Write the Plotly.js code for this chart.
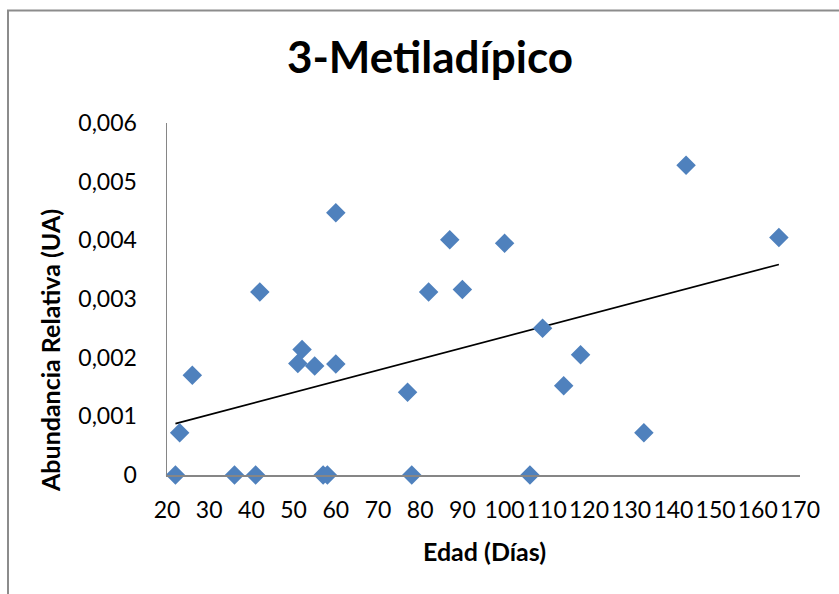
<!DOCTYPE html>
<html>
<head>
<meta charset="utf-8">
<script src="https://cdn.plot.ly/plotly-3.0.1.min.js"></script>
<style>
  html, body { margin: 0; padding: 0; background: #ffffff; overflow: hidden; }
  #chart { width: 839px; height: 594px; }
</style>
</head>
<body>
<div id="chart"></div>
<script>
// Edad (días) y abundancia relativa de ácido 3-metiladípico por muestra
const edad = [22, 23, 26, 36, 41, 42, 51, 52, 55, 57, 58, 60, 60, 77, 78, 82, 87, 90, 100, 106, 109, 114, 118, 133, 143, 165];
const abundancia = [0, 0.00072, 0.0017, 0, 0, 0.00312, 0.0019, 0.00214, 0.00186, 0, 0, 0.00447, 0.00189, 0.00141, 0, 0.00312, 0.00401, 0.00316, 0.00395, 0, 0.0025, 0.00152, 0.00205, 0.00072, 0.00528, 0.00405];

// Etiquetas de los ejes
const xTicks = [20, 30, 40, 50, 60, 70, 80, 90, 100, 110, 120, 130, 140, 150, 160, 170];
const yTicks = [0, 0.001, 0.002, 0.003, 0.004, 0.005, 0.006];
const yTickText = ['0', '0,001', '0,002', '0,003', '0,004', '0,005', '0,006'];

// Recta de tendencia lineal (mínimos cuadrados)
function ajusteLineal(xs, ys) {
  const n = xs.length;
  const mx = xs.reduce((a, b) => a + b, 0) / n;
  const my = ys.reduce((a, b) => a + b, 0) / n;
  let sxy = 0, sxx = 0;
  for (let i = 0; i < n; i++) {
    sxy += (xs[i] - mx) * (ys[i] - my);
    sxx += (xs[i] - mx) * (xs[i] - mx);
  }
  const m = sxy / sxx;
  return { m: m, b: my - m * mx };
}
const fit = ajusteLineal(edad, abundancia);
const xMin = Math.min(...edad), xMax = Math.max(...edad);
const trendX = [xMin, xMax];
const trendY = trendX.map(x => fit.m * x + fit.b);

const FONT = 'Lato, "Open Sans", sans-serif';

const puntos = {
  x: edad, y: abundancia, type: 'scatter', mode: 'markers',
  marker: { symbol: 'diamond', size: 15, color: '#4f81bd', line: { width: 0 } },
  cliponaxis: false, hoverinfo: 'x+y', showlegend: false
};
const tendencia = {
  x: trendX, y: trendY, type: 'scatter', mode: 'lines',
  line: { color: '#000000', width: 1.6 },
  hoverinfo: 'skip', showlegend: false
};

// Márgenes del área de trazado (px)
const W = 839, H = 594;
const L = 167, R = 39, T = 123, B = 119;
const pw = W - L - R, ph = H - T - B;
const px = v => (v - L) / pw;          // píxel horizontal -> fracción paper
const py = v => (H - B - v) / ph;      // píxel vertical -> fracción paper

const layout = {
  width: W, height: H,
  margin: { l: L, r: R, t: T, b: B, pad: 0 },
  paper_bgcolor: '#ffffff', plot_bgcolor: '#ffffff',
  font: { family: FONT, color: '#000000', size: 23 },
  title: {
    text: '<b>3-Metiladípico</b>',
    font: { family: FONT, size: 44, color: '#000000' },
    x: 430 / W, xref: 'container', xanchor: 'center',
    y: 1 - 58 / H, yref: 'container', yanchor: 'middle'
  },
  xaxis: {
    range: [20, 170], tickvals: xTicks, ticktext: xTicks.map(String),
    showgrid: false, zeroline: false, showline: true, linecolor: '#868686', linewidth: 1.5,
    ticks: '', ticklabelstandoff: 14,
    tickfont: { family: FONT, size: 23, color: '#000000' }
  },
  yaxis: {
    range: [0, 0.006], tickvals: yTicks, ticktext: yTickText,
    showgrid: false, zeroline: false, showline: true, linecolor: '#868686', linewidth: 1.5,
    ticks: '', ticklabelstandoff: 24,
    tickfont: { family: FONT, size: 23, color: '#000000' }
  },
  annotations: [
    {
      text: '<b>Edad (Días)</b>', xref: 'paper', yref: 'paper',
      x: px(484), y: py(551), xanchor: 'center', yanchor: 'middle', showarrow: false,
      font: { family: FONT, size: 25, color: '#000000' }
    },
    {
      text: '<b>Abundancia Relativa (UA)</b>', xref: 'paper', yref: 'paper',
      x: px(50), y: py(351), xanchor: 'center', yanchor: 'middle', showarrow: false,
      textangle: -90,
      font: { family: FONT, size: 25, color: '#000000' }
    }
  ],
  shapes: [{
    type: 'rect', xref: 'paper', yref: 'paper', layer: 'below',
    x0: px(8), x1: px(870),
    y0: py(640), y1: py(10.5),
    line: { color: '#8c8c8c', width: 2 }, fillcolor: 'rgba(0,0,0,0)'
  }]
};

Plotly.newPlot('chart', [tendencia, puntos], layout, { staticPlot: true, displayModeBar: false });
</script>
</body>
</html>
